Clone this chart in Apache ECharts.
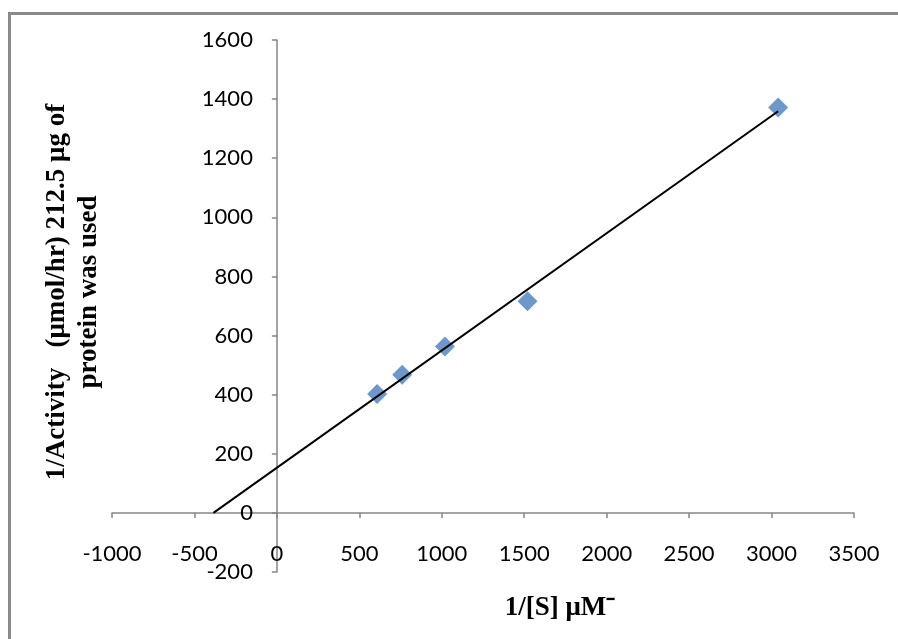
<!DOCTYPE html>
<html>
<head>
<meta charset="utf-8">
<script src="https://cdn.jsdelivr.net/npm/echarts@6/dist/echarts.min.js"></script>
<style>
html,body{margin:0;padding:0;background:#fff;}
#c{width:898px;height:639px;}
</style>
</head>
<body>
<div id="c"></div>
<script>
var xValues = [608, 760, 1019, 1520, 3040];
var yValues = [402, 467, 563, 716, 1372];
var xTitle = '1/[S] \u03bcM\u207b';
var yTitleLines = ['1/Activity   (\u03bcmol/hr) 212.5 \u03bcg of', 'protein was used'];

// linear least-squares trendline, extended backward to y = 0
var n = xValues.length, mx = 0, my = 0;
for (var i = 0; i < n; i++) { mx += xValues[i]; my += yValues[i]; }
mx /= n; my /= n;
var sxy = 0, sxx = 0;
for (var i = 0; i < n; i++) { sxy += (xValues[i]-mx)*(yValues[i]-my); sxx += (xValues[i]-mx)*(xValues[i]-mx); }
var slope = sxy / sxx, icpt = my - slope * mx;
var xStart = -icpt / slope, xEnd = Math.max.apply(null, xValues);
var trend = [[xStart, 0], [xEnd, icpt + slope * xEnd]];

var pts = xValues.map(function(x, i){ return [x, yValues[i]]; });
var chart = echarts.init(document.getElementById('c'));
var axisCol = '#868686';
var plain = function(v){ return String(v); };
// grid geometry; axes are shifted inward so they cross at (0,0)
var G = {left: 112, right: 44, top: 40, bottom: 67};
var W = 898 - G.left - G.right, H = 639 - G.top - G.bottom;
var xMin = -1000, xMax = 3500, yMin = -200, yMax = 1600;
var xOff = -(0 - xMin) / (xMax - xMin) * W;
var yOff = -(0 - yMin) / (yMax - yMin) * H;
chart.setOption({
  animation: false,
  graphic: [{
    type: 'rect', left: 7, top: 11, z: -10,
    shape: {width: 1000, height: 1000},
    style: {fill: 'none', stroke: '#8a8a8a', lineWidth: 3}
  }],
  grid: {left: G.left, right: G.right, top: G.top, bottom: G.bottom, containLabel: false, outerBoundsMode: 'none'},
  xAxis: {
    type: 'value', min: xMin, max: xMax, interval: 500, position: 'bottom', offset: yOff,
    axisLine: {onZero: false, lineStyle: {color: axisCol, width: 1.5}},
    axisTick: {show: true, length: 5, lineStyle: {color: axisCol, width: 1.5}},
    splitLine: {show: false},
    axisLabel: {color: '#000', fontFamily: 'Lato', fontSize: 22, margin: 30, formatter: plain},
    name: xTitle, nameLocation: 'middle', nameGap: 82,
    nameTextStyle: {fontFamily: 'Liberation Serif', fontWeight: 'bold', fontSize: 27, color: '#000', padding: [0, 0, 0, 154]}
  },
  yAxis: {
    type: 'value', min: yMin, max: yMax, interval: 200, position: 'left', offset: xOff,
    axisLine: {show: true, onZero: false, lineStyle: {color: axisCol, width: 1.5}},
    axisTick: {show: true, length: 5, lineStyle: {color: axisCol, width: 1.5}},
    splitLine: {show: false},
    axisLabel: {color: '#000', fontFamily: 'Lato', fontSize: 22, margin: 24, formatter: plain},
    name: yTitleLines.join('\n'), nameLocation: 'middle', nameRotate: 90, nameGap: 172,
    nameTextStyle: {fontFamily: 'Liberation Serif', fontWeight: 'bold', fontSize: 27, color: '#000', lineHeight: 32, align: 'center', padding: [0, 0, 0, 28]}
  },
  series: [{
    type: 'line', data: trend, symbol: 'none', z: 3,
    lineStyle: {color: '#000', width: 2}
  }, {
    type: 'scatter', data: pts, symbol: 'diamond', symbolSize: 20, z: 2,
    itemStyle: {color: '#4a7ebb'}
  }]
});
</script>
</body>
</html>
